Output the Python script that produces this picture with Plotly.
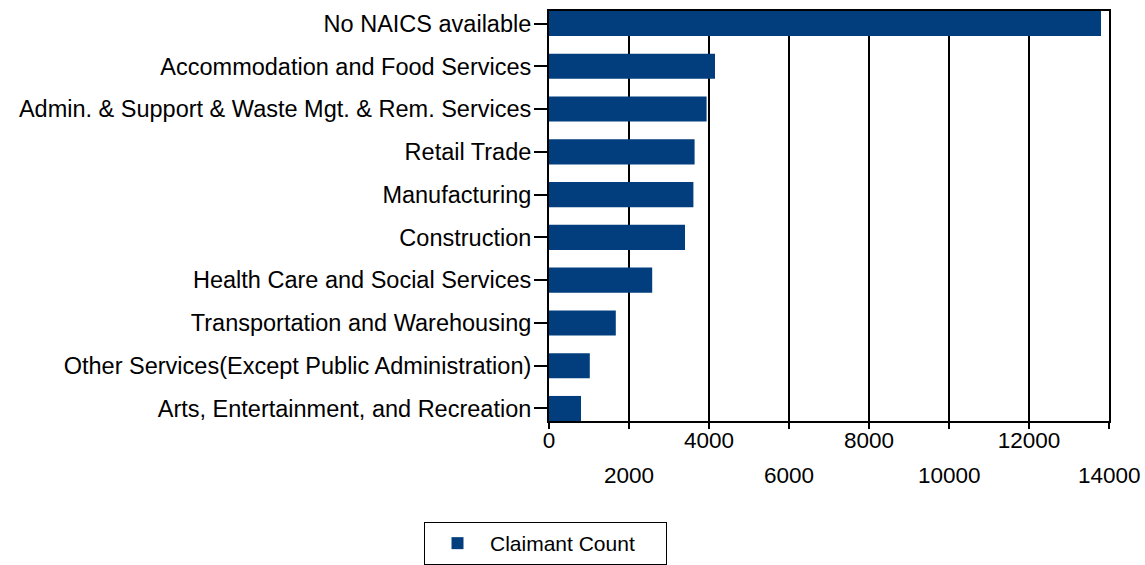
import plotly.graph_objects as go

categories = [
    "No NAICS available",
    "Accommodation and Food Services",
    "Admin. & Support & Waste Mgt. & Rem. Services",
    "Retail Trade",
    "Manufacturing",
    "Construction",
    "Health Care and Social Services",
    "Transportation and Warehousing",
    "Other Services(Except Public Administration)",
    "Arts, Entertainment, and Recreation",
]
claimant_count = [13800, 4150, 3940, 3640, 3610, 3400, 2580, 1670, 1020, 800]

tick_values = [0, 2000, 4000, 6000, 8000, 10000, 12000, 14000]
upper_row_ticks = [0, 4000, 8000, 12000]
lower_row_ticks = [2000, 6000, 10000, 14000]

FONT = "Liberation Sans, Arial, sans-serif"
BAR_COLOR = "#023E7D"
bar_frac = 0.586

fig = go.Figure()
fig.add_trace(go.Bar(
    x=claimant_count,
    y=categories,
    orientation="h",
    name="Claimant Count",
    marker=dict(color=BAR_COLOR, line=dict(width=0)),
))

fig.update_layout(
    width=1145,
    height=565,
    margin=dict(l=549, r=36, t=11, b=144, autoexpand=False),
    paper_bgcolor="white",
    plot_bgcolor="white",
    bargap=1 - bar_frac,
    font=dict(family=FONT, color="black", size=22),
    showlegend=True,
    legend=dict(
        orientation="h",
        x=(424 - 549) / 560,
        xanchor="left",
        y=-(522 - 421) / 410,
        yanchor="top",
        bordercolor="black",
        borderwidth=1,
        font=dict(size=21, family=FONT, color="black"),
        itemwidth=55,
        entrywidth=171,
        bgcolor="white",
    ),
    xaxis=dict(
        range=[0, 14000],
        tickvals=tick_values,
        ticktext=[str(v) if v in upper_row_ticks else "" for v in tick_values],
        showgrid=True,
        gridcolor="black",
        gridwidth=2,
        showline=True,
        mirror=True,
        linecolor="black",
        linewidth=2,
        ticks="outside",
        ticklen=6,
        tickwidth=2,
        tickcolor="black",
        ticklabelstandoff=-8,
        tickfont=dict(size=22.5, family=FONT, color="black"),
        zeroline=False,
        fixedrange=True,
    ),
    yaxis=dict(
        type="category",
        categoryorder="array",
        categoryarray=categories,
        range=[len(categories) - 1 + bar_frac / 2, -bar_frac / 2],
        showgrid=False,
        showline=True,
        mirror=True,
        linecolor="black",
        linewidth=2,
        ticks="outside",
        ticklen=13,
        tickwidth=2,
        tickcolor="black",
        ticklabelstandoff=-2,
        tickfont=dict(size=23.5, family=FONT, color="black"),
        fixedrange=True,
    ),
)

for v in lower_row_ticks:
    fig.add_annotation(
        x=v, xref="x", y=0, yref="paper",
        text=str(v), showarrow=False,
        xanchor="center", yanchor="middle", yshift=-54.5,
        font=dict(size=22.5, family=FONT, color="black"),
    )

fig.write_html(
    "out.html",
    config={"displayModeBar": False},
    post_script="document.body.style.margin='0';document.body.style.overflow='hidden';",
)
